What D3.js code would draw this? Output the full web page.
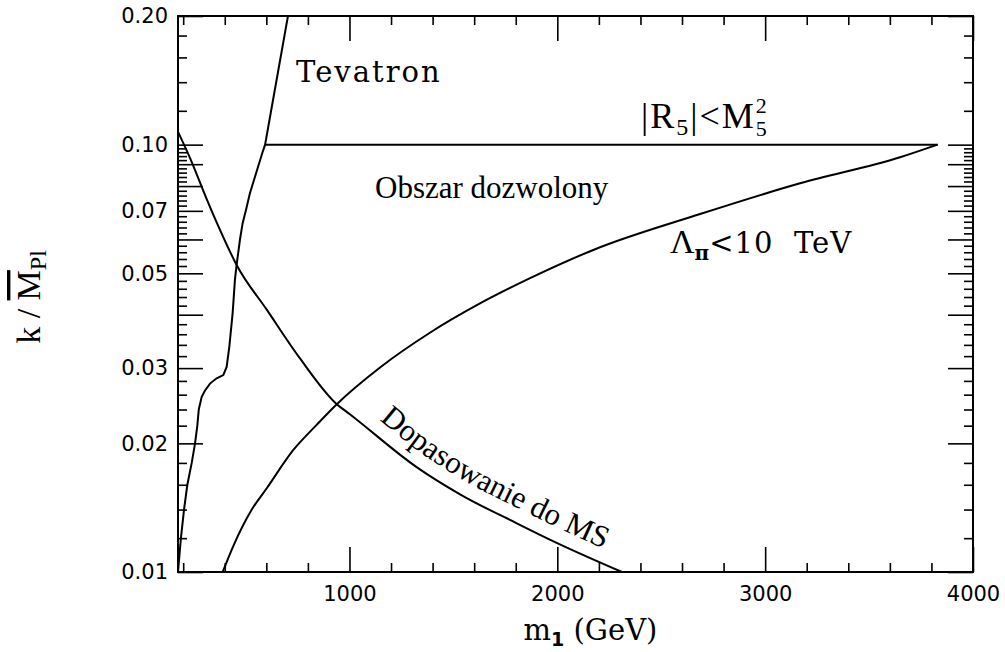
<!DOCTYPE html>
<html>
<head>
<meta charset="utf-8">
<script src="https://cdn.jsdelivr.net/npm/d3@7"></script>
<style>
  body { margin: 0; background: #fff; }
  .tick text { font-family: "DejaVu Sans", sans-serif; font-size: 21px; fill: #000; }
  .tick line { stroke: #000; stroke-width: 1.6; }
  .curve { fill: none; stroke: #000; stroke-width: 2; }
</style>
</head>
<body>
<div id="chart"></div>
<script>
// values (m1 in GeV, k / Mpl)
const tevatronM1 = [175, 189, 204, 220, 241, 257, 268, 275, 289, 305, 329, 361, 393, 409, 422, 438, 449, 457, 473, 486, 502, 521, 541, 561, 581, 594, 704];
const tevatronK  = [0.0100, 0.0120, 0.0140, 0.0160, 0.0180, 0.0200, 0.0220, 0.0240, 0.0257, 0.0266, 0.0276, 0.0284, 0.0289, 0.0302, 0.0337, 0.0404, 0.0483, 0.0523, 0.0599, 0.0655, 0.0703, 0.0770, 0.0828, 0.0890, 0.0957, 0.1000, 0.2000];

const r5M1 = [594, 3830];
const r5K  = [0.1, 0.1];

const lambdaM1 = [390, 441, 530, 602, 730, 842, 939, 1147, 1387, 1628, 1869, 2173, 2687, 3168, 3649, 3830];
const lambdaK  = [0.0100, 0.0115, 0.0140, 0.0157, 0.0193, 0.0221, 0.0247, 0.0301, 0.0363, 0.0425, 0.0487, 0.0567, 0.0688, 0.0812, 0.0934, 0.1000];

const fitM1 = [175, 233, 310, 377, 457, 602, 762, 939, 1002, 1323, 1532, 1805, 1997, 2311];
const fitK  = [0.1072, 0.0930, 0.0752, 0.0632, 0.0523, 0.0411, 0.0316, 0.0247, 0.0234, 0.0176, 0.0152, 0.0130, 0.0117, 0.0100];

// tick labels
const xLabelTicks = [1000, 2000, 3000, 4000];
const yLabelTicks = [0.01, 0.02, 0.03, 0.05, 0.07, 0.1, 0.2];
const yLongTicks  = [0.04, 0.06, 0.08, 0.09];

// where the labels sit, in data units
const tevatronPos = [743, 0.140];
const r5Pos       = [2403, 0.1094];
const obszarPos   = [1123, 0.0750];
const lambdaPos   = [2542, 0.0558];
const fitLabelStart = 1150;

const margin = {top: 16, right: 32, bottom: 80, left: 178},
    width = 1005 - margin.left - margin.right,
    height = 652 - margin.top - margin.bottom;

const root = d3.select("#chart").append("svg")
    .attr("width", 1005)
    .attr("height", 652);
const svg = root.append("g")
    .attr("transform", `translate(${margin.left},${margin.top})`);

const x = d3.scaleLinear().domain([175, 4000]).range([0, width]);
const y = d3.scaleLog().domain([0.01, 0.2]).range([height, 0]);

// minor tick positions
const xMinor = d3.range(200, 4000, 200).filter(d => d % 1000 !== 0);
const yMinor = d3.range(12, 100, 2).filter(d => d % 10 !== 0).map(d => d / 1000)
    .concat([0.12, 0.14, 0.16, 0.18]);

function addAxis(axis, translate) {
  return svg.append("g")
      .attr("transform", translate)
      .call(axis)
      .call(g => g.select(".domain").remove());
}

// bottom + top
addAxis(d3.axisBottom(x).tickValues(xMinor).tickSize(-9).tickFormat(""), `translate(0,${height})`);
addAxis(d3.axisBottom(x).tickValues(xLabelTicks).tickSize(-25).tickPadding(14).tickFormat(d3.format("d")), `translate(0,${height})`)
  .selectAll("text").attr("dy", "0.71em");
addAxis(d3.axisTop(x).tickValues(xMinor).tickSize(-9).tickFormat(""), "translate(0,0)");
addAxis(d3.axisTop(x).tickValues(xLabelTicks).tickSize(-25).tickFormat(""), "translate(0,0)");

// left + right
addAxis(d3.axisLeft(y).tickValues(yMinor).tickSize(-9).tickFormat(""), "translate(0,0)");
addAxis(d3.axisLeft(y).tickValues(yLongTicks).tickSize(-25).tickFormat(""), "translate(0,0)");
addAxis(d3.axisLeft(y).tickValues(yLabelTicks).tickSize(-25).tickPadding(10).tickFormat(d3.format(".2f")), "translate(0,0)");
addAxis(d3.axisRight(y).tickValues(yMinor).tickSize(-9).tickFormat(""), `translate(${width},0)`);
addAxis(d3.axisRight(y).tickValues(yLongTicks.concat(yLabelTicks)).tickSize(-25).tickFormat(""), `translate(${width},0)`);

// frame
svg.append("rect")
    .attr("width", width)
    .attr("height", height)
    .attr("fill", "none")
    .attr("stroke", "#000")
    .attr("stroke-width", 2);

// curves
svg.append("clipPath").attr("id", "clip")
  .append("rect").attr("width", width).attr("height", height);
const plot = svg.append("g").attr("clip-path", "url(#clip)");

const straight = d3.line().x(d => x(d[0])).y(d => y(d[1]));
const smooth = d3.line().x(d => x(d[0])).y(d => y(d[1])).curve(d3.curveMonotoneX);

plot.append("path").attr("class", "curve")
    .datum(tevatronM1.map((m, i) => [m, tevatronK[i]]))
    .attr("d", straight);
plot.append("path").attr("class", "curve")
    .datum(r5M1.map((m, i) => [m, r5K[i]]))
    .attr("d", straight);
plot.append("path").attr("class", "curve")
    .datum(lambdaM1.map((m, i) => [m, lambdaK[i]]))
    .attr("d", smooth);
const fitPath = plot.append("path").attr("class", "curve")
    .datum(fitM1.map((m, i) => [m, fitK[i]]))
    .attr("d", smooth);

// label along the fit curve, a bit above it
const node = fitPath.node(), total = node.getTotalLength();
const off = 14, labelPts = [];
for (let l = 0; l <= total; l += 3) {
  const q = node.getPointAtLength(Math.min(total, l + 1)),
        r = node.getPointAtLength(Math.max(0, l - 1)),
        p = node.getPointAtLength(l);
  const dx = q.x - r.x, dy = q.y - r.y, n = Math.hypot(dx, dy);
  labelPts.push([p.x + off * dy / n, p.y - off * dx / n]);
}
svg.append("path")
    .attr("id", "fitLabelPath")
    .attr("fill", "none")
    .attr("d", d3.line().curve(d3.curveBasis)(labelPts));
let startLen = 0;
for (let i = 1; i < labelPts.length; i++) {
  if (labelPts[i][0] >= x(fitLabelStart)) break;
  startLen += Math.hypot(labelPts[i][0] - labelPts[i-1][0], labelPts[i][1] - labelPts[i-1][1]);
}
svg.append("text")
    .style("font-family", "Liberation Serif, serif")
    .style("font-size", "31px")
  .append("textPath")
    .attr("href", "#fitLabelPath")
    .attr("startOffset", startLen)
    .text("Dopasowanie do MS");

// labels
svg.append("text")
    .attr("x", x(tevatronPos[0])).attr("y", y(tevatronPos[1]))
    .style("font-family", "DejaVu Serif, serif")
    .style("font-size", "29px")
    .style("letter-spacing", "2px")
    .text("Tevatron");

svg.append("text")
    .attr("x", x(obszarPos[0])).attr("y", y(obszarPos[1]))
    .style("font-family", "Liberation Serif, serif")
    .style("font-size", "31px")
    .text("Obszar dozwolony");

const r5 = svg.append("text")
    .attr("x", x(r5Pos[0])).attr("y", y(r5Pos[1]))
    .style("font-family", "Liberation Serif, serif")
    .style("font-size", "36px")
    .style("letter-spacing", "2px");
r5.append("tspan").text("|R");
r5.append("tspan").attr("dy", 7).style("font-size", "24px").text("5");
r5.append("tspan").attr("dy", -7).text("|<M");
r5.append("tspan").attr("dy", 8).style("font-size", "22px").text("5");
r5.append("tspan").attr("dx", -13).attr("dy", -23).style("font-size", "22px").text("2");

const lam = svg.append("text")
    .attr("x", x(lambdaPos[0])).attr("y", y(lambdaPos[1]))
    .style("font-family", "DejaVu Serif, serif")
    .style("font-size", "29px");
lam.append("tspan").style("font-family", "Liberation Serif, serif").style("font-size", "34px").text("Λ");
lam.append("tspan").attr("dy", 7).style("font-size", "20px").style("font-weight", "bold").text("π");
lam.append("tspan").attr("dy", -7).style("letter-spacing", "1px").text("<10\u00a0\u00a0TeV");

// axis titles
const xt = root.append("text")
    .attr("x", margin.left + width / 2 + 15)
    .attr("y", 640)
    .attr("text-anchor", "middle")
    .style("font-family", "DejaVu Serif, serif")
    .style("font-size", "29px");
xt.append("tspan").text("m");
xt.append("tspan").attr("dy", 6).style("font-family", "DejaVu Sans, sans-serif").style("font-weight", "bold").style("font-size", "19px").text("1");
xt.append("tspan").attr("dy", -6).text("\u00a0(GeV)");

const yt = root.append("text")
    .attr("transform", `translate(40,${margin.top + height / 2 + 3}) rotate(-90)`)
    .attr("text-anchor", "middle")
    .style("font-family", "Liberation Serif, serif")
    .style("font-size", "34px");
yt.append("tspan").text("k / ");
yt.append("tspan").style("text-decoration", "overline").text("M");
yt.append("tspan").attr("dy", 6).style("font-size", "24px").text("Pl");
</script>
</body>
</html>
